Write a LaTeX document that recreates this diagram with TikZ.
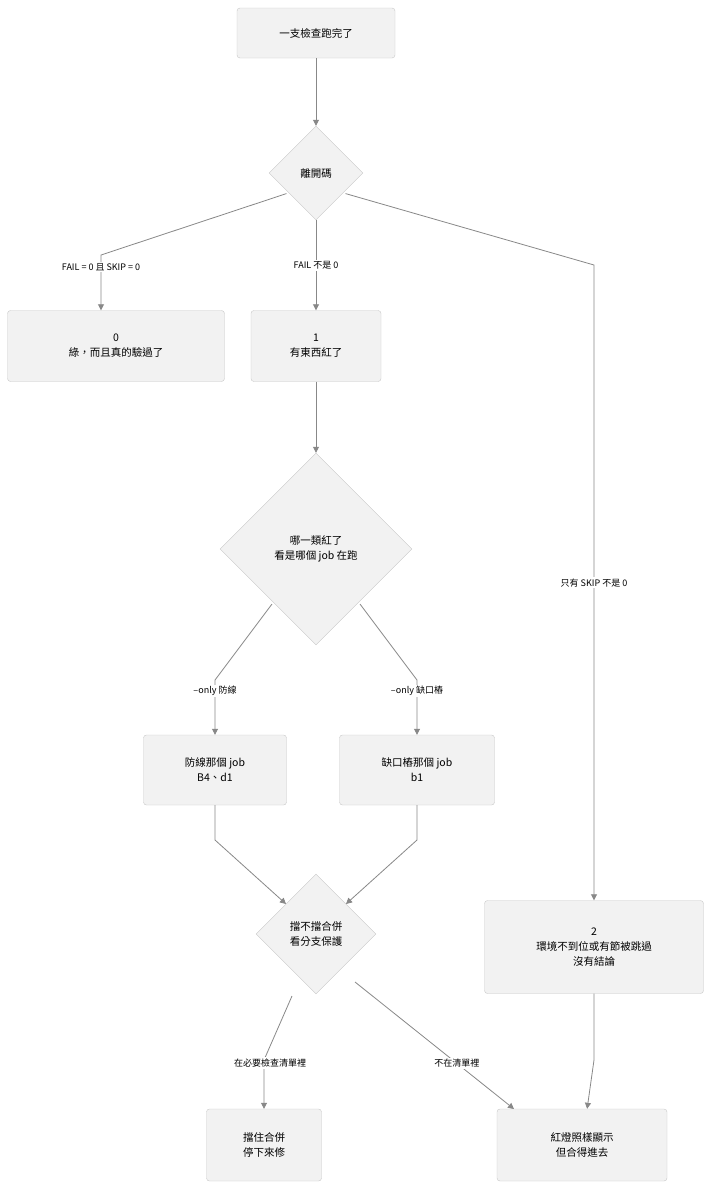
\documentclass[tikz,border=0pt]{standalone}
\usepackage{fontspec}
\setmainfont{Noto Sans CJK TC}
\usetikzlibrary{shapes.geometric,arrows.meta}
\definecolor{bx}{HTML}{F2F2F2}
\definecolor{bd}{HTML}{C8C8C8}
\definecolor{ln}{HTML}{888888}
\begin{document}
\begin{tikzpicture}[x=1pt,y=-1pt,
 box/.style={draw=bd,fill=bx,rounded corners=3pt,align=center,font=\fontsize{10.5}{15}\selectfont,inner sep=0pt},
 dia/.style={draw=bd,fill=bx,diamond,align=center,font=\fontsize{10.5}{15}\selectfont,inner sep=0pt},
 ar/.style={draw=ln,line width=0.8pt,-{Triangle[length=6pt,width=6pt]}},
 lb/.style={fill=white,font=\fontsize{9}{11}\selectfont,inner sep=1.5pt}]
\useasboundingbox[fill=white] (0,0) rectangle (719,1203);
\node[box,minimum width=158,minimum height=50] (s) at (316,33) {一支檢查跑完了};
\node[dia,minimum width=94,minimum height=94] (d1) at (316,173) {離開碼};
\node[box,minimum width=217,minimum height=71] (n0) at (116,346) {0\\綠，而且真的驗過了};
\node[box,minimum width=130,minimum height=71] (n1) at (316,346) {1\\有東西紅了};
\node[dia,minimum width=192,minimum height=192] (d2) at (316,549) {哪一類紅了\\看是哪個 job 在跑};
\node[box,minimum width=143,minimum height=70] (a) at (215,770) {防線那個 job\\B4、d1};
\node[box,minimum width=155,minimum height=70] (b) at (417,770) {缺口樁那個 job\\b1};
\node[dia,minimum width=120,minimum height=120] (d3) at (316,934) {擋不擋合併\\看分支保護};
\node[box,minimum width=219,minimum height=93] (n2) at (594,947) {2\\環境不到位或有節被跳過\\沒有結論};
\node[box,minimum width=115,minimum height=72] (m) at (264,1145) {擋住合併\\停下來修};
\node[box,minimum width=170,minimum height=72] (r) at (582,1145) {紅燈照樣顯示\\但合得進去};
\coordinate (c1) at (101,255); \coordinate (c2) at (594,265);
\coordinate (c3) at (215,680); \coordinate (c4) at (417,680);
\coordinate (c5) at (215,840); \coordinate (c6) at (417,840);
\coordinate (c7) at (264,1060); \coordinate (c8) at (594,1060);
\draw[ar] (s) -- (d1);
\draw[ar] (d1.south west) ++(-6,-3) -- (c1) -- (n0.north -| c1);
\path (c1) ++(0,12) node[lb] (l1) {FAIL = 0 且 SKIP = 0};
\draw[ar] (d1) -- node[lb,pos=0.5] (l2) {FAIL 不是 0} (n1);
\draw[ar] (d1.south east) ++(6,-3) -- (c2) -- node[lb] (l3) {只有 SKIP 不是 0} (n2);
\draw[ar] (n1) -- (d2);
\draw[ar] (272,604) -- (c3) -- node[lb,pos=0.2] (l4) {--only 防線} (a);
\draw[ar] (360,604) -- (c4) -- node[lb,pos=0.2] (l5) {--only 缺口樁} (b);
\draw[ar] (a) -- (c5) -- (286,904);
\draw[ar] (b) -- (c6) -- (346,904);
\draw[ar] (292,996) -- (c7) -- (m);
\path (c7) ++(6,3) node[lb] (l6) {在必要檢查清單裡};
\draw[ar] (355,982) -- node[lb,pos=0.64] (l7) {不在清單裡} (514,1109);
\draw[ar] (n2) -- (c8) -- (r);
\end{tikzpicture}
\end{document}
